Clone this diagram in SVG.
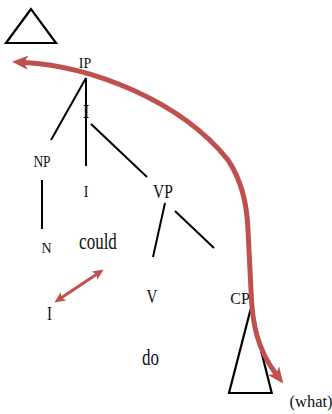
<svg xmlns="http://www.w3.org/2000/svg" width="332" height="414" viewBox="0 0 332 414">
<style>
text{font-family:"Liberation Serif","Times New Roman",serif;fill:#111;text-anchor:middle}
.ln{stroke:#000;stroke-width:2;fill:none;stroke-linecap:butt}
.tri{stroke:#000;stroke-width:2.2;fill:none;stroke-linejoin:miter}
.red{stroke:#c0504d;fill:none;stroke-linecap:round}
</style>
<defs>
<marker id="bigHead" markerUnits="userSpaceOnUse" markerWidth="16" markerHeight="16" refX="4" refY="8" orient="auto-start-reverse" viewBox="0 0 16 16">
<path d="M0,1 L16,8 L0,15 L4,8 Z" fill="#c0504d"/>
</marker>
<marker id="smallHead" markerUnits="userSpaceOnUse" markerWidth="11" markerHeight="11" refX="3" refY="5.5" orient="auto-start-reverse" viewBox="0 0 11 11">
<path d="M0,0.5 L11,5.5 L0,10.5 L2.5,5.5 Z" fill="#c0504d"/>
</marker>
</defs>
<g id="top-triangle"><polygon class="tri" points="31,9 6,43 56,43"/></g>
<g id="connectors">
<line class="ln" x1="86" y1="78" x2="51" y2="140"/>
<line class="ln" x1="86" y1="78" x2="86" y2="166"/>
<line class="ln" x1="91" y1="124" x2="147" y2="177"/>
<line class="ln" x1="42" y1="180" x2="42" y2="229"/>
<line class="ln" x1="165" y1="203" x2="153" y2="257"/>
<line class="ln" x1="175" y1="211" x2="214" y2="248"/>
</g>
<g id="IP"><text transform="translate(85,68)" font-size="14">IP</text></g>
<g id="Ibar"><text transform="translate(86,118) scale(1,1.2)" font-size="16" font-weight="bold">I</text></g>
<g id="NP"><text transform="translate(42,167) scale(1,1.3)" font-size="13.5">NP</text></g>
<g id="I"><text transform="translate(86,197) scale(1,1.15)" font-size="14">I</text></g>
<g id="VP"><text transform="translate(163,198) scale(1,1.2)" font-size="15.5">VP</text></g>
<g id="N"><text transform="translate(46.5,253) scale(1,1.1)" font-size="14">N</text></g>
<g id="could"><text transform="translate(98,249) scale(1,1.3)" font-size="17">could</text></g>
<g id="I-trace"><text transform="translate(49.5,320) scale(1,1.2)" font-size="15">I</text></g>
<g id="V"><text transform="translate(152,303) scale(1,1.3)" font-size="15">V</text></g>
<g id="do"><text transform="translate(150.5,365) scale(1,1.4)" font-size="17">do</text></g>
<g id="CP"><text transform="translate(240,304) scale(1,1.05)" font-size="16">CP</text></g>
<g id="CP-triangle"><polygon class="tri" points="250.7,309 229,393 271.7,393"/></g>
<g id="what"><text transform="translate(311,407)" font-size="16.5">(what)</text></g>
<g id="arrows">
<path class="red" stroke-width="5" marker-start="url(#bigHead)" marker-end="url(#bigHead)" d="M24,62.5 C90,66 180,100 228,160 C240,178 247,200 248,230 L251,290 C252,325 258,350 276,374"/>
<line class="red" stroke-width="3" marker-start="url(#smallHead)" marker-end="url(#smallHead)" x1="61" y1="298" x2="97" y2="274"/>
</g>
</svg>
